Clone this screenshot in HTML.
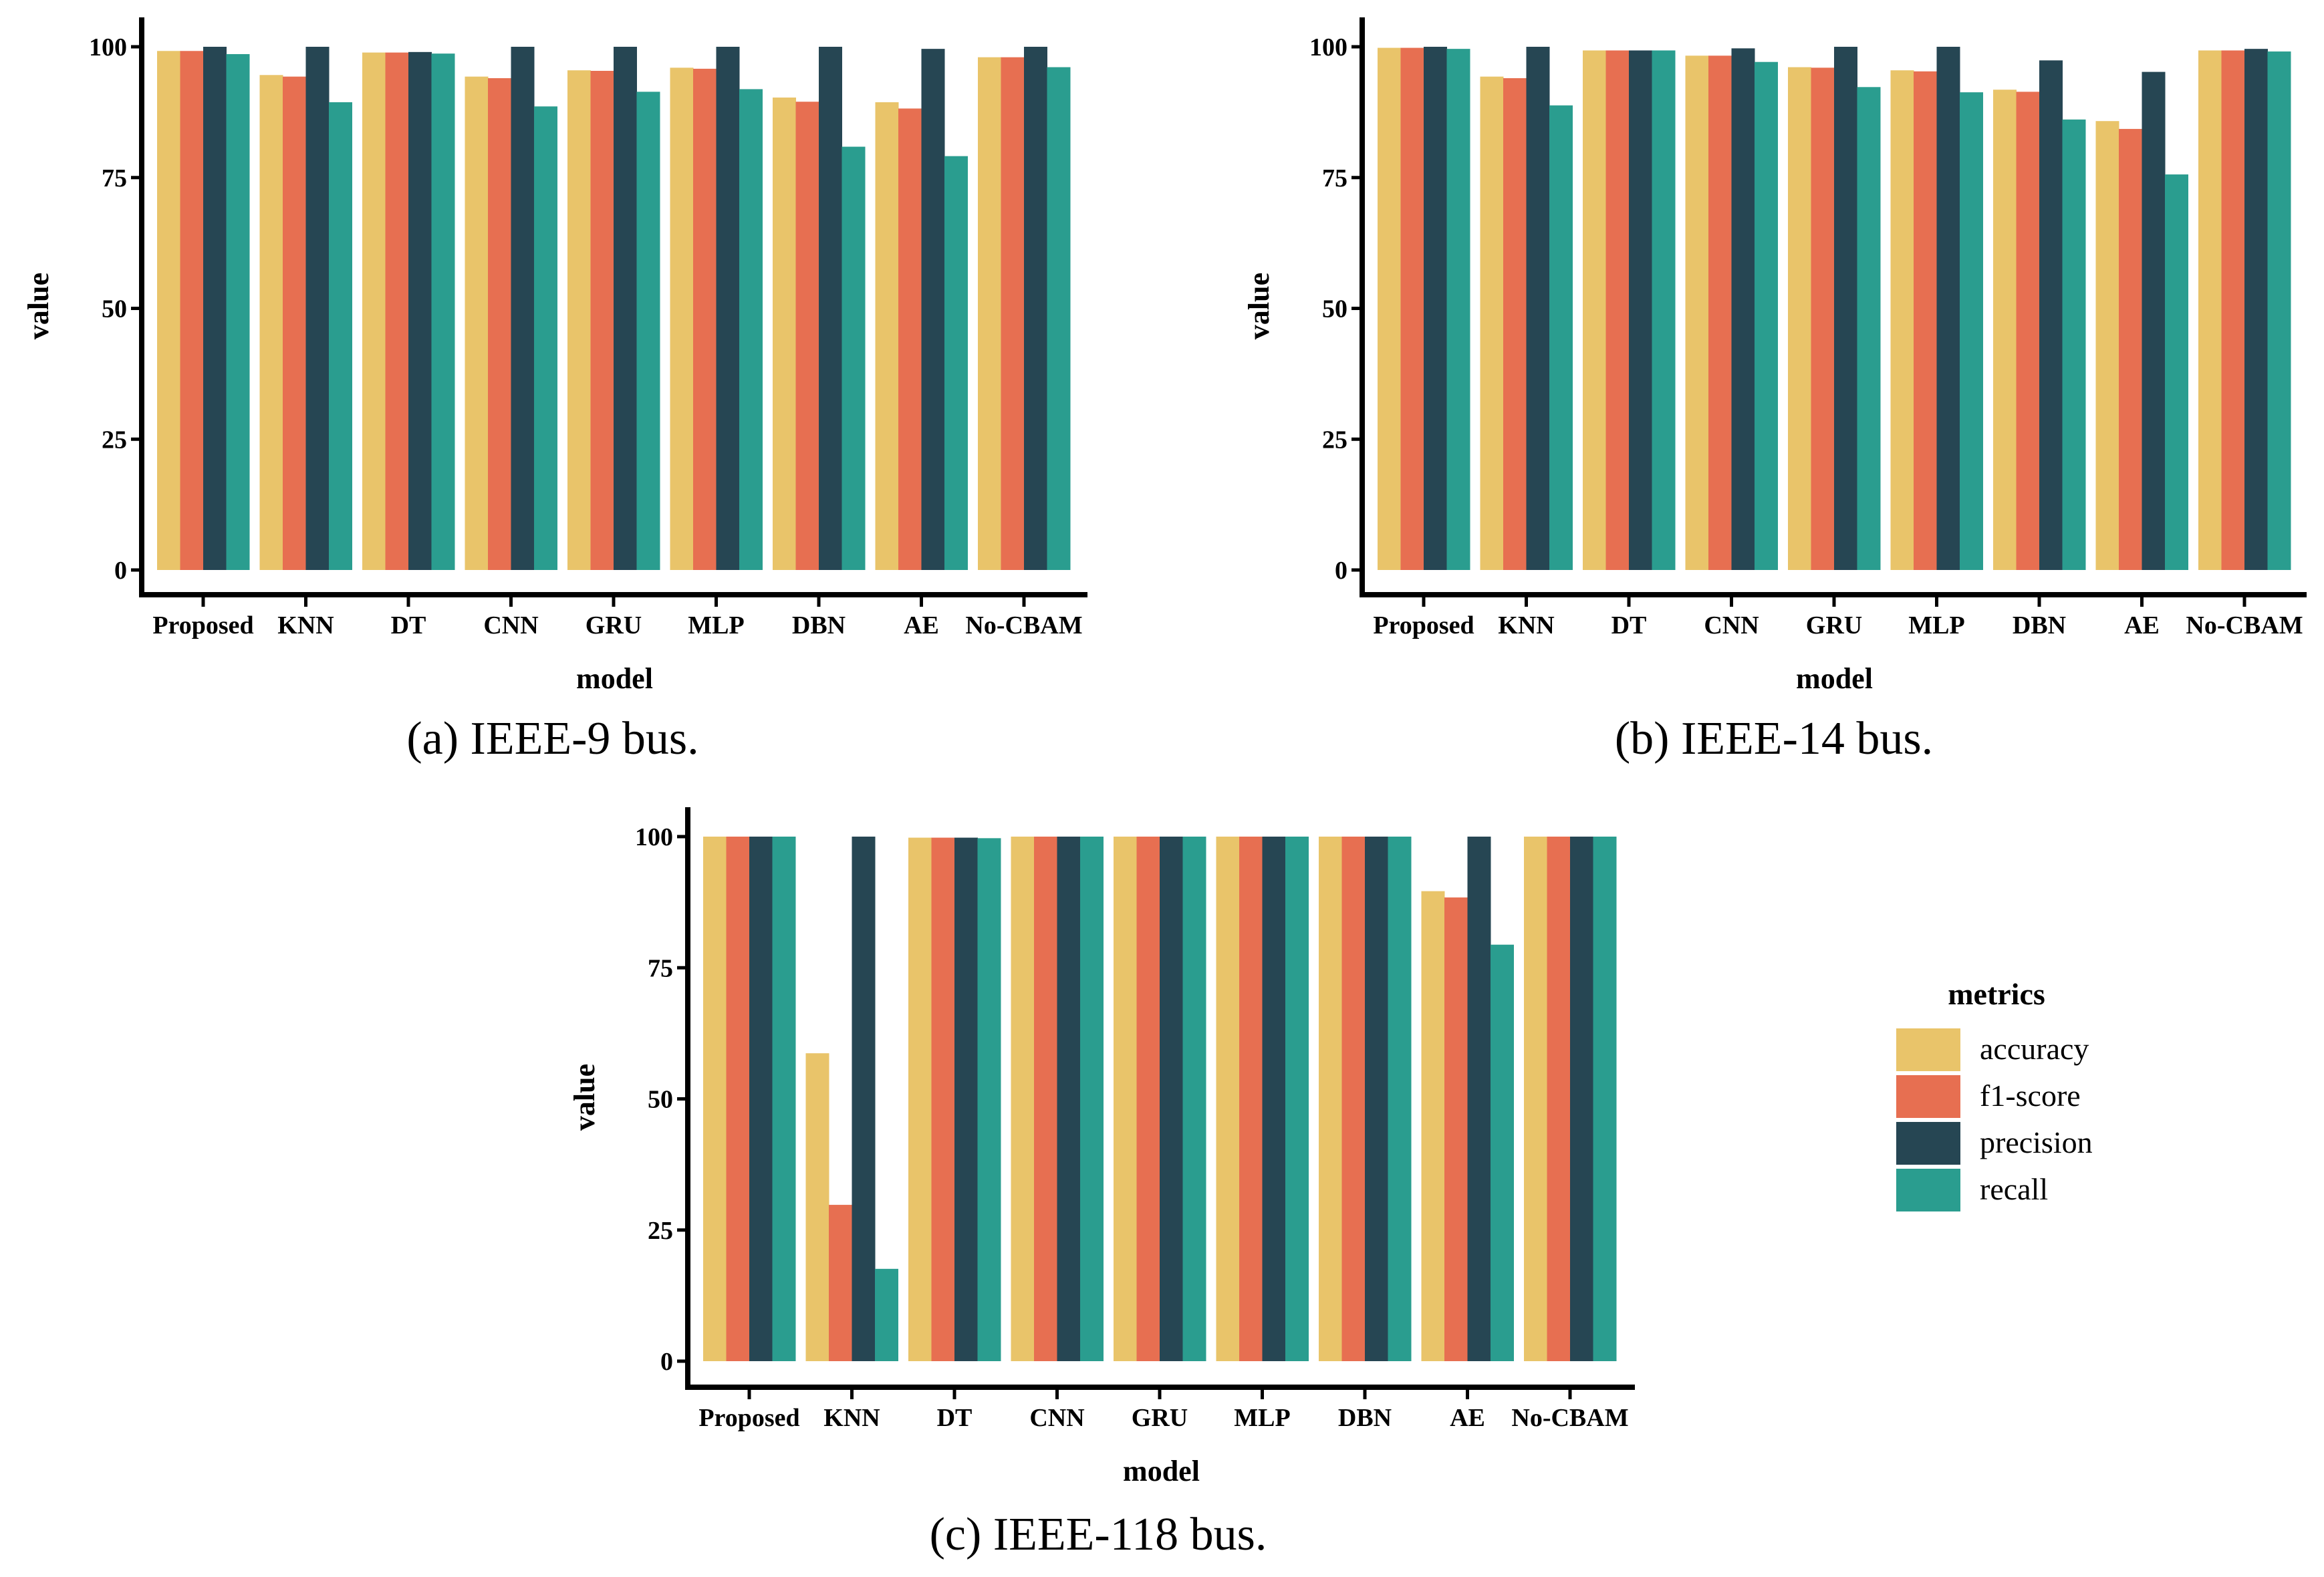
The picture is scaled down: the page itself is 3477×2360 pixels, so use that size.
<!DOCTYPE html>
<html><head><meta charset="utf-8"><style>
html,body{margin:0;padding:0;background:#fff}
svg{display:block}
text{font-family:"Liberation Serif",serif}
</style></head><body>
<svg id="fig" width="3477" height="2360" viewBox="0 0 3477 2360" xmlns="http://www.w3.org/2000/svg"></svg>
<script>
const categories = ["Proposed","KNN","DT","CNN","GRU","MLP","DBN","AE","No-CBAM"];
const metrics = ["accuracy","f1-score","precision","recall"];
const colors = ["#E9C46A","#E76F51","#264653","#2A9D8F"];
const yTicks = [0,25,50,75,100];
const bus9Accuracy  = [99.2,94.6,98.9,94.3,95.5,96.0,90.3,89.4,98.0];
const bus9F1        = [99.2,94.3,98.9,94.0,95.4,95.8,89.5,88.2,98.0];
const bus9Precision = [100,100,99.0,100,100,100,100,99.6,100];
const bus9Recall    = [98.6,89.4,98.7,88.6,91.4,91.9,80.9,79.1,96.1];
const bus14Accuracy  = [99.8,94.3,99.3,98.3,96.1,95.5,91.8,85.8,99.3];
const bus14F1        = [99.8,94.0,99.3,98.3,96.0,95.3,91.4,84.3,99.3];
const bus14Precision = [100,100,99.3,99.7,100,100,97.4,95.2,99.6];
const bus14Recall    = [99.6,88.8,99.3,97.1,92.3,91.3,86.1,75.6,99.1];
const bus118Accuracy  = [100,58.7,99.8,100,100,100,100,89.6,100];
const bus118F1        = [100,29.8,99.8,100,100,100,100,88.4,100];
const bus118Precision = [100,100,99.8,100,100,100,100,100,100];
const bus118Recall    = [100,17.6,99.7,100,100,100,100,79.4,100];

const NS="http://www.w3.org/2000/svg";
const svg=document.getElementById('fig');
function mk(tag,attrs,parent){const e=document.createElementNS(NS,tag);for(const k in attrs)e.setAttribute(k,attrs[k]);(parent||svg).appendChild(e);return e;}

function panel(id,ax,y0,y100,axTop,axBot,axRight,series,caption,capX,capY){
  const g=mk('g',{});
  
  
  const yScale=v=>y0+(v/100)*(y100-y0);
  const step=153.5, first=ax+92, bw=34.5;
  const xCenter=i=>first+i*step;
  series.forEach((vals,m)=>{
    vals.forEach((v,i)=>{
      const x=xCenter(i)-2*bw+m*bw;
      const r=mk('rect',{x:x,y:yScale(v),width:bw+0.5,height:y0-yScale(v),fill:colors[m]},g);
      
      
    });
  });
  const yl=mk('line',{x1:ax,y1:axTop,x2:ax,y2:axBot+4,stroke:'#000','stroke-width':8},g);
  
  
  const xl=mk('line',{x1:ax-4,y1:axBot,x2:axRight,y2:axBot,stroke:'#000','stroke-width':8},g);
  
  
  yTicks.forEach(t=>{
    const y=yScale(t);
    mk('line',{x1:ax-16,y1:y,x2:ax,y2:y,stroke:'#000','stroke-width':5},g);
    const tx=mk('text',{x:ax-22,y:y+13,'text-anchor':'end','font-size':38,'font-weight':'bold'},g);
    tx.textContent=t;
    
    
  });
  categories.forEach((c,i)=>{
    const x=xCenter(i);
    mk('line',{x1:x,y1:axBot,x2:x,y2:axBot+18,stroke:'#000','stroke-width':5},g);
    const tx=mk('text',{x:x,y:axBot+58,'text-anchor':'middle','font-size':38,'font-weight':'bold'},g);
    tx.textContent=c;
    
    
  });
  const xt=mk('text',{x:(ax+axRight)/2,y:axBot+140,'text-anchor':'middle','font-size':44,'font-weight':'bold'},g);
  xt.textContent='model';
  
  
  const ym=(axTop+axBot)/2;
  const yt=mk('text',{x:ax-140,y:ym,'text-anchor':'middle','font-size':44,'font-weight':'bold',transform:'rotate(-90 '+(ax-140)+' '+ym+')'},g);
  yt.textContent='value';
  
  
  const cp=mk('text',{x:capX,y:capY,'text-anchor':'middle','font-size':70},g);
  cp.textContent=caption;
  
  
}
panel('ieee-9',212,853,70,26,890,1627,[bus9Accuracy,bus9F1,bus9Precision,bus9Recall],'(a) IEEE-9 bus.',827,1128);
panel('ieee-14',2038,853,70,26,890,3451,[bus14Accuracy,bus14F1,bus14Precision,bus14Recall],'(b) IEEE-14 bus.',2654,1128);
panel('ieee-118',1029,2037,1252,1208,2076,2446,[bus118Accuracy,bus118F1,bus118Precision,bus118Recall],'(c) IEEE-118 bus.',1643,2319);

const lg=mk('g',{});


const lt=mk('text',{x:2987,y:1503,'text-anchor':'middle','font-size':46,'font-weight':'bold'},lg);
lt.textContent='metrics';


metrics.forEach((m,i)=>{
  const r=mk('rect',{x:2837,y:1539+i*70,width:96,height:64,fill:colors[i]},lg);
  
  
  const t=mk('text',{x:2962,y:1585+i*70,'font-size':46},lg);
  t.textContent=m;
  
  
});
</script>
</body></html>
